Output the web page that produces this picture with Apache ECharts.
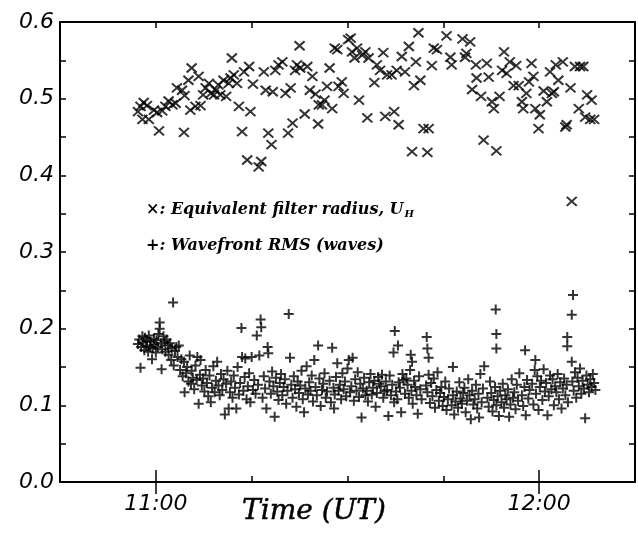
<!DOCTYPE html>
<html><head><meta charset="utf-8">
<script src="https://cdn.jsdelivr.net/npm/echarts@6/dist/echarts.min.js"></script>
<style>html,body{margin:0;padding:0;background:#fff}#c{width:638px;height:546px}</style>
</head><body><div id="c"></div>
<script>
// x values are minutes after midnight (UT)
var xTickLabels = {660: '11:00', 720: '12:00'};
var xAxisName = 'Time (UT)';
var legendLine1 = '×: Equivalent filter radius, ';
var legendLine2 = '+: Wavefront RMS (waves)';

// Equivalent filter radius U_H  [time(min), value]
var filterRadius = [
[657.2,0.483],[657.6,0.490],[658.1,0.495],[658.6,0.491],[657.9,0.473],[658.9,0.473],[659.7,0.485],[660.2,0.482],[660.5,0.458],[661.0,0.484],
[661.5,0.490],[662.0,0.497],[662.6,0.492],[663.1,0.494],[663.3,0.514],[664.1,0.511],[664.4,0.456],[664.5,0.504],[665.1,0.524],[665.4,0.485],
[665.6,0.540],[666.2,0.490],[666.7,0.529],[667.0,0.491],[667.4,0.505],[667.8,0.514],[668.3,0.520],[668.6,0.507],[669.1,0.505],[669.4,0.511],
[669.8,0.518],[670.1,0.505],[670.6,0.524],[671.0,0.503],[671.4,0.520],[671.9,0.553],[671.7,0.527],[672.2,0.531],[672.7,0.520],[673.0,0.490],
[673.5,0.457],[673.8,0.535],[674.3,0.420],[674.6,0.542],[674.8,0.483],[675.2,0.519],[676.1,0.411],[676.5,0.418],[676.9,0.535],[677.2,0.511],
[677.6,0.455],[678.1,0.440],[678.3,0.509],[678.7,0.537],[679.2,0.544],[679.8,0.548],[680.3,0.507],[680.7,0.455],[681.1,0.514],[681.4,0.468],
[681.8,0.537],[682.1,0.544],[682.5,0.569],[682.6,0.540],[683.3,0.480],[683.7,0.542],[684.1,0.511],[684.5,0.529],[685.0,0.506],[685.4,0.467],
[685.5,0.492],[686.0,0.492],[686.4,0.498],[686.8,0.516],[687.2,0.540],[687.6,0.487],[688.0,0.566],[688.4,0.564],[688.6,0.516],[689.1,0.522],
[689.4,0.507],[690.1,0.577],[690.5,0.579],[690.7,0.561],[691.1,0.553],[691.5,0.566],[691.8,0.498],[692.3,0.557],[692.8,0.561],[693.1,0.475],
[693.3,0.553],[694.2,0.521],[694.6,0.544],[695.1,0.537],[695.6,0.560],[695.9,0.477],[696.2,0.531],[696.9,0.531],[697.3,0.483],[698.0,0.466],
[697.7,0.537],[698.5,0.555],[699.0,0.535],[699.6,0.568],[700.1,0.431],[700.4,0.517],[700.7,0.548],[701.1,0.586],[701.4,0.524],[701.9,0.461],
[702.5,0.430],[702.7,0.461],[703.2,0.543],[703.5,0.566],[704.0,0.564],[705.5,0.582],[706.1,0.554],[706.3,0.544],[708.0,0.578],[708.4,0.554],
[708.6,0.559],[709.2,0.574],[709.5,0.512],[710.1,0.544],[710.2,0.527],[710.9,0.503],[711.3,0.446],[711.8,0.546],[712.1,0.528],[712.6,0.496],
[712.9,0.487],[713.3,0.432],[713.8,0.503],[714.2,0.537],[714.5,0.561],[714.9,0.533],[715.4,0.548],[716.0,0.517],[716.4,0.543],[716.8,0.517],
[717.3,0.496],[717.5,0.487],[718.0,0.507],[718.4,0.522],[718.8,0.546],[719.1,0.529],[719.4,0.487],[719.9,0.461],[720.1,0.479],[720.7,0.510],
[721.2,0.496],[721.7,0.535],[722.0,0.507],[722.3,0.509],[722.6,0.544],[723.0,0.524],[723.7,0.548],[724.1,0.463],[724.3,0.466],[724.9,0.514],
[725.1,0.366],[725.6,0.542],[726.4,0.542],[726.9,0.542],[726.2,0.487],[727.5,0.505],[727.2,0.476],[728.2,0.498],[728.0,0.473],[728.6,0.473]
];

// Wavefront RMS (waves)  [time(min), value]
var wavefrontRMS = [
[657.2,0.180],[657.4,0.186],[657.6,0.149],[657.7,0.176],[657.9,0.190],[658.0,0.182],[658.2,0.172],[658.3,0.188],[658.5,0.178],[658.6,0.184],
[658.8,0.170],[658.9,0.191],[659.1,0.176],[659.2,0.183],[659.4,0.160],[659.5,0.174],[659.7,0.187],[659.8,0.179],[660.0,0.169],[660.1,0.185],
[660.3,0.176],[660.4,0.193],[660.6,0.208],[660.6,0.200],[660.8,0.181],[660.9,0.147],[661.0,0.173],[661.2,0.190],[661.4,0.183],[661.5,0.170],
[661.7,0.186],[661.9,0.178],[662.0,0.166],[662.2,0.181],[662.4,0.159],[662.5,0.174],[662.7,0.234],[662.8,0.152],[663.0,0.171],[663.2,0.176],
[663.4,0.163],[663.6,0.178],[663.8,0.146],[664.0,0.160],[664.2,0.138],[664.4,0.157],[664.5,0.117],[664.7,0.142],[664.9,0.150],[665.1,0.131],
[665.3,0.165],[665.5,0.128],[665.6,0.145],[665.8,0.136],[666.0,0.121],[666.2,0.152],[666.4,0.133],[666.5,0.163],[666.7,0.102],[666.9,0.140],
[667.0,0.159],[667.2,0.126],[667.4,0.135],[667.6,0.118],[667.8,0.146],[668.0,0.129],[668.2,0.112],[668.4,0.139],[668.6,0.104],[668.8,0.123],
[669.0,0.151],[669.2,0.117],[669.4,0.132],[669.6,0.157],[669.8,0.126],[670.0,0.113],[670.2,0.141],[670.4,0.120],[670.6,0.134],[670.8,0.088],
[671.0,0.128],[671.2,0.145],[671.4,0.096],[671.6,0.117],[671.8,0.131],[672.0,0.110],[672.2,0.139],[672.4,0.123],[672.6,0.096],[672.8,0.150],
[673.0,0.114],[673.2,0.129],[673.4,0.201],[673.5,0.163],[673.7,0.119],[673.9,0.137],[674.0,0.161],[674.2,0.108],[674.4,0.125],[674.6,0.142],
[674.8,0.104],[675.0,0.163],[675.2,0.120],[675.4,0.133],[675.6,0.115],[675.8,0.191],[676.0,0.127],[676.2,0.165],[676.4,0.212],[676.5,0.202],
[676.7,0.110],[676.9,0.138],[677.1,0.122],[677.3,0.096],[677.5,0.176],[677.6,0.168],[677.8,0.131],[678.0,0.115],[678.2,0.144],[678.4,0.125],
[678.6,0.085],[678.8,0.136],[679.0,0.118],[679.2,0.107],[679.4,0.129],[679.6,0.141],[679.8,0.113],[680.0,0.124],[680.2,0.134],[680.4,0.102],
[680.6,0.119],[680.8,0.219],[681.0,0.162],[681.2,0.127],[681.4,0.110],[681.6,0.138],[681.8,0.121],[682.0,0.098],[682.2,0.131],[682.4,0.116],
[682.6,0.126],[682.8,0.145],[683.0,0.108],[683.2,0.091],[683.4,0.122],[683.6,0.151],[683.8,0.114],[684.0,0.130],[684.2,0.119],[684.4,0.139],
[684.6,0.105],[684.8,0.159],[685.0,0.124],[685.4,0.178],[685.2,0.113],[685.6,0.135],[685.8,0.099],[686.0,0.120],[686.2,0.128],[686.4,0.142],
[686.6,0.110],[686.8,0.118],[687.6,0.175],[687.2,0.132],[687.4,0.104],[687.8,0.123],[687.9,0.096],[688.0,0.114],[688.2,0.137],[688.4,0.155],
[688.6,0.119],[688.8,0.127],[689.0,0.108],[689.2,0.142],[689.4,0.121],[689.6,0.131],[689.8,0.112],[690.0,0.148],[690.2,0.159],[690.4,0.117],
[690.6,0.125],[690.8,0.162],[691.0,0.106],[691.2,0.134],[691.4,0.119],[691.6,0.143],[691.8,0.111],[692.0,0.128],[692.2,0.084],[692.4,0.122],
[692.6,0.136],[692.8,0.113],[693.0,0.119],[693.2,0.105],[693.4,0.130],[693.6,0.141],[693.8,0.114],[694.0,0.123],[694.2,0.132],[694.4,0.098],
[694.6,0.116],[694.8,0.137],[695.0,0.128],[695.2,0.125],[695.4,0.140],[695.6,0.110],[695.8,0.118],[696.0,0.131],[696.2,0.120],[696.4,0.086],
[696.6,0.139],[696.8,0.113],[697.2,0.169],[697.4,0.197],[697.9,0.178],[697.0,0.127],[697.3,0.104],[697.6,0.118],[697.8,0.108],[698.0,0.130],
[698.2,0.123],[698.4,0.091],[698.6,0.141],[698.8,0.133],[699.9,0.166],[700.1,0.157],[699.0,0.115],[699.2,0.135],[699.4,0.127],[699.6,0.110],
[699.8,0.146],[700.0,0.119],[700.2,0.102],[700.4,0.132],[700.6,0.124],[700.8,0.113],[701.0,0.089],[701.2,0.138],[701.4,0.121],[701.6,0.108],
[702.4,0.189],[702.5,0.174],[702.7,0.162],[702.3,0.126],[702.5,0.117],[702.7,0.140],[702.9,0.103],[703.1,0.129],[703.3,0.112],[703.5,0.135],
[703.7,0.097],[703.9,0.120],[704.1,0.143],[704.3,0.106],[704.5,0.116],[704.7,0.124],[704.9,0.099],[705.1,0.111],[705.3,0.131],[705.5,0.094],
[705.7,0.108],[705.9,0.122],[706.5,0.150],[706.3,0.100],[706.5,0.113],[706.7,0.088],[706.9,0.105],[707.1,0.118],[707.3,0.097],[707.5,0.130],
[707.7,0.109],[707.9,0.102],[708.1,0.116],[708.3,0.123],[708.5,0.091],[708.7,0.106],[708.9,0.134],[709.1,0.113],[709.3,0.082],[709.5,0.119],
[709.7,0.101],[709.9,0.108],[710.1,0.127],[710.3,0.096],[710.5,0.115],[710.6,0.084],[710.8,0.141],[711.0,0.104],[711.2,0.122],[711.4,0.151],
[713.2,0.225],[713.3,0.193],[713.3,0.174],[711.9,0.110],[712.1,0.098],[712.3,0.131],[712.5,0.116],[712.7,0.092],[712.9,0.107],[713.1,0.124],
[713.3,0.100],[713.5,0.112],[713.7,0.086],[713.9,0.119],[714.1,0.104],[714.3,0.128],[714.5,0.097],[714.7,0.113],[714.9,0.108],[715.1,0.121],
[715.3,0.085],[715.5,0.101],[715.7,0.134],[715.9,0.110],[716.1,0.117],[716.3,0.095],[716.5,0.127],[716.7,0.106],[716.9,0.142],[717.8,0.172],
[717.3,0.113],[717.5,0.099],[717.7,0.124],[717.9,0.087],[718.1,0.133],[718.3,0.109],[718.5,0.120],[719.4,0.159],[718.9,0.128],[719.1,0.101],
[719.3,0.146],[719.5,0.115],[719.7,0.138],[719.9,0.094],[720.1,0.124],[720.3,0.132],[720.5,0.107],[720.7,0.147],[720.9,0.118],[721.1,0.129],
[721.3,0.087],[721.5,0.112],[721.7,0.139],[721.9,0.121],[722.1,0.134],[722.3,0.100],[722.5,0.125],[722.7,0.117],[722.9,0.141],[723.1,0.108],
[723.3,0.130],[723.5,0.096],[723.7,0.122],[723.9,0.135],[724.1,0.113],[724.3,0.127],[724.5,0.104],[724.4,0.189],[724.4,0.177],[725.1,0.218],
[725.3,0.244],[725.1,0.157],[725.2,0.131],[725.4,0.119],[725.6,0.143],[725.8,0.110],[726.0,0.136],[726.2,0.125],[726.4,0.148],[726.6,0.115],
[726.8,0.132],[727.0,0.122],[727.2,0.083],[727.4,0.139],[727.6,0.127],[727.8,0.117],[728.0,0.134],[728.2,0.124],[728.4,0.141],[728.6,0.129],[728.8,0.120]
];

var chart = echarts.init(document.getElementById('c'), null, {renderer: 'canvas'});
var axisFont = {fontFamily: 'DejaVu Sans', fontStyle: 'italic', fontSize: 22, color: '#000'};
var lineStyle = {color: '#000', width: 2};
function xAxisDef(pos, opts) {
  return Object.assign({
    type: 'value', position: pos, min: 645, max: 735, interval: 15,
    axisLine: {show: true, onZero: false, lineStyle: lineStyle},
    axisTick: {show: true, inside: true, length: 6, lineStyle: {color: '#000', width: 1.5}},
    axisLabel: {show: false}, splitLine: {show: false}
  }, opts || {});
}
function yAxisDef(pos, opts) {
  return Object.assign({
    type: 'value', position: pos, min: 0, max: 0.6, interval: 0.05,
    axisLine: {show: true, onZero: false, lineStyle: lineStyle},
    axisTick: {show: true, inside: true, length: 6, lineStyle: {color: '#000', width: 1.5}},
    axisLabel: {show: false}, splitLine: {show: false}
  }, opts || {});
}
var legendFont = 'italic bold 16px "DejaVu Serif"';
var option = {
  animation: false,
  backgroundColor: '#fff',
  grid: {left: 60, top: 22, right: 3, bottom: 64, containLabel: false},
  xAxis: [
    xAxisDef('bottom', {
      axisLabel: Object.assign({show: true, margin: 11, formatter: function (v) { return xTickLabels[v] || ''; }}, axisFont)
    }),
    xAxisDef('top'),
    xAxisDef('bottom', {axisLine: {show: false}, axisTick: {show: true, inside: true, length: 12, customValues: [660, 720], lineStyle: {color: '#000', width: 1.5}}}),
    xAxisDef('top', {axisLine: {show: false}, axisTick: {show: true, inside: true, length: 12, customValues: [660, 720], lineStyle: {color: '#000', width: 1.5}}})
  ],
  yAxis: [
    yAxisDef('left', {
      axisLabel: Object.assign({show: true, margin: 6, showMinLabel: true, showMaxLabel: true,
        formatter: function (v) { var r = Math.round(v * 20); return r % 2 === 0 ? (r / 20).toFixed(1) : ''; }}, axisFont)
    }),
    yAxisDef('right')
  ],
  graphic: [
    {type: 'text', x: 314, y: 512, style: {
      text: xAxisName, font: 'italic 28px "DejaVu Serif"', fill: '#000', align: 'center', verticalAlign: 'middle',
      stroke: '#000', lineWidth: 0.5}},
    {type: 'text', left: 146, top: 202, style: {
      text: legendLine1 + '{u|U}{h|H}',
      font: legendFont, fill: '#000',
      rich: {u: {font: legendFont, fill: '#000'}, h: {font: 'italic bold 10px "DejaVu Serif"', fill: '#000', verticalAlign: 'bottom', padding: [9, 0, 0, 1]}}
    }},
    {type: 'text', left: 146, top: 238, style: {text: legendLine2, font: legendFont, fill: '#000'}}
  ],
  series: [
    {type: 'scatter', name: 'U_H', xAxisIndex: 0, yAxisIndex: 0, data: filterRadius,
     symbol: 'path://M0,0L10,10M10,0L0,10', symbolSize: [10, 9],
     itemStyle: {color: '#000', borderColor: '#000', borderWidth: 2}},
    {type: 'scatter', name: 'RMS', xAxisIndex: 0, yAxisIndex: 0, data: wavefrontRMS,
     symbol: 'path://M0,5L10,5M5,0L5,10', symbolSize: [10, 10],
     itemStyle: {color: '#000', borderColor: '#000', borderWidth: 2}}
  ]
};
chart.setOption(option);
</script></body></html>
